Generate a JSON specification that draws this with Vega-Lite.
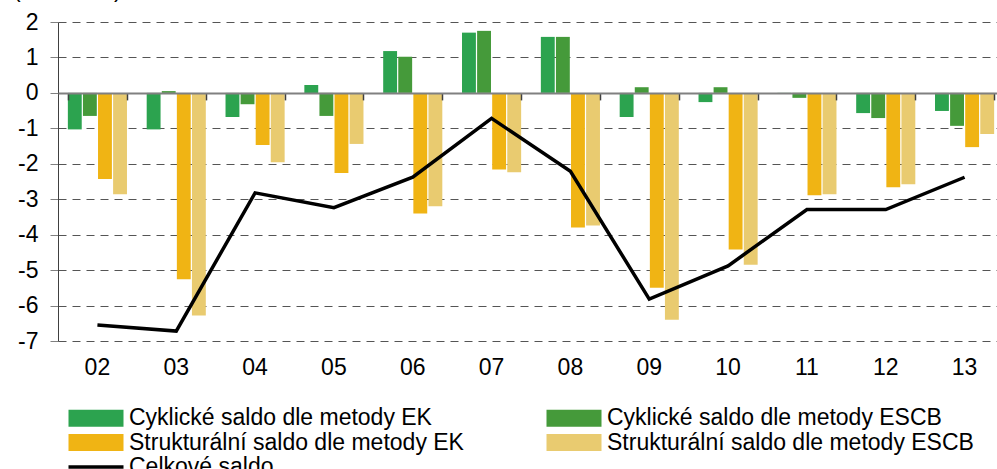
{
  "$schema": "https://vega.github.io/schema/vega-lite/v6.json",
  "width": 946,
  "height": 319,
  "autosize": {"type": "none"},
  "padding": {"left": 58, "top": 22, "right": -7, "bottom": 128},
  "background": "white",
  "title": {"text": "(v % HDP)", "anchor": "start", "frame": "group", "baseline": "alphabetic", "offset": 3, "dx": -45, "dy": 12, "fontSize": 23, "fontWeight": "normal", "color": "black"},
  "config": {
    "view": {"stroke": null},
    "font": "Liberation Sans",
    "axisY": {"labelOverlap": false, "labelFontSize": 23, "labelColor": "black", "labelPadding": 12}
  },
  "datasets": {
    "bars": [
      {"year": "02", "series": "Cyklické saldo dle metody EK", "value": -1.03},
      {"year": "02", "series": "Cyklické saldo dle metody ESCB", "value": -0.65},
      {"year": "02", "series": "Strukturální saldo dle metody EK", "value": -2.43},
      {"year": "02", "series": "Strukturální saldo dle metody ESCB", "value": -2.86},
      {"year": "03", "series": "Cyklické saldo dle metody EK", "value": -1.03},
      {"year": "03", "series": "Cyklické saldo dle metody ESCB", "value": 0.05},
      {"year": "03", "series": "Strukturální saldo dle metody EK", "value": -5.26},
      {"year": "03", "series": "Strukturální saldo dle metody ESCB", "value": -6.28},
      {"year": "04", "series": "Cyklické saldo dle metody EK", "value": -0.68},
      {"year": "04", "series": "Cyklické saldo dle metody ESCB", "value": -0.32},
      {"year": "04", "series": "Strukturální saldo dle metody EK", "value": -1.47},
      {"year": "04", "series": "Strukturální saldo dle metody ESCB", "value": -1.96},
      {"year": "05", "series": "Cyklické saldo dle metody EK", "value": 0.22},
      {"year": "05", "series": "Cyklické saldo dle metody ESCB", "value": -0.65},
      {"year": "05", "series": "Strukturální saldo dle metody EK", "value": -2.26},
      {"year": "05", "series": "Strukturální saldo dle metody ESCB", "value": -1.44},
      {"year": "06", "series": "Cyklické saldo dle metody EK", "value": 1.18},
      {"year": "06", "series": "Cyklické saldo dle metody ESCB", "value": 1.02},
      {"year": "06", "series": "Strukturální saldo dle metody EK", "value": -3.4},
      {"year": "06", "series": "Strukturální saldo dle metody ESCB", "value": -3.2},
      {"year": "07", "series": "Cyklické saldo dle metody EK", "value": 1.7},
      {"year": "07", "series": "Cyklické saldo dle metody ESCB", "value": 1.75},
      {"year": "07", "series": "Strukturální saldo dle metody EK", "value": -2.16},
      {"year": "07", "series": "Strukturální saldo dle metody ESCB", "value": -2.24},
      {"year": "08", "series": "Cyklické saldo dle metody EK", "value": 1.58},
      {"year": "08", "series": "Cyklické saldo dle metody ESCB", "value": 1.58},
      {"year": "08", "series": "Strukturální saldo dle metody EK", "value": -3.8},
      {"year": "08", "series": "Strukturální saldo dle metody ESCB", "value": -3.74},
      {"year": "09", "series": "Cyklické saldo dle metody EK", "value": -0.68},
      {"year": "09", "series": "Cyklické saldo dle metody ESCB", "value": 0.16},
      {"year": "09", "series": "Strukturální saldo dle metody EK", "value": -5.5},
      {"year": "09", "series": "Strukturální saldo dle metody ESCB", "value": -6.4},
      {"year": "10", "series": "Cyklické saldo dle metody EK", "value": -0.26},
      {"year": "10", "series": "Cyklické saldo dle metody ESCB", "value": 0.16},
      {"year": "10", "series": "Strukturální saldo dle metody EK", "value": -4.42},
      {"year": "10", "series": "Strukturální saldo dle metody ESCB", "value": -4.85},
      {"year": "11", "series": "Cyklické saldo dle metody EK", "value": -0.02},
      {"year": "11", "series": "Cyklické saldo dle metody ESCB", "value": -0.14},
      {"year": "11", "series": "Strukturální saldo dle metody EK", "value": -2.89},
      {"year": "11", "series": "Strukturální saldo dle metody ESCB", "value": -2.86},
      {"year": "12", "series": "Cyklické saldo dle metody EK", "value": -0.57},
      {"year": "12", "series": "Cyklické saldo dle metody ESCB", "value": -0.71},
      {"year": "12", "series": "Strukturální saldo dle metody EK", "value": -2.66},
      {"year": "12", "series": "Strukturální saldo dle metody ESCB", "value": -2.58},
      {"year": "13", "series": "Cyklické saldo dle metody EK", "value": -0.51},
      {"year": "13", "series": "Cyklické saldo dle metody ESCB", "value": -0.93},
      {"year": "13", "series": "Strukturální saldo dle metody EK", "value": -1.53},
      {"year": "13", "series": "Strukturální saldo dle metody ESCB", "value": -1.16}
    ],
    "total": [
      {"year": "02", "value": -6.55},
      {"year": "03", "value": -6.72},
      {"year": "04", "value": -2.82},
      {"year": "05", "value": -3.24},
      {"year": "06", "value": -2.38},
      {"year": "07", "value": -0.72},
      {"year": "08", "value": -2.21},
      {"year": "09", "value": -5.82},
      {"year": "10", "value": -4.88},
      {"year": "11", "value": -3.29},
      {"year": "12", "value": -3.29},
      {"year": "13", "value": -2.38}
    ]
  },
  "layer": [
    {
      "data": {"name": "bars"},
      "mark": {"type": "bar"},
      "encoding": {
        "x": {
          "field": "year", "type": "nominal",
          "scale": {"paddingInner": 0.25, "paddingOuter": 0.125},
          "axis": {"orient": "bottom", "title": null, "domain": false, "ticks": false, "grid": false, "labelAngle": 0, "labelFontSize": 23, "labelPadding": 15, "labelColor": "black"}
        },
        "xOffset": {
          "field": "series", "type": "nominal",
          "sort": ["Cyklické saldo dle metody EK", "Cyklické saldo dle metody ESCB", "Strukturální saldo dle metody EK", "Strukturální saldo dle metody ESCB"],
          "scale": {"paddingInner": 0.08}
        },
        "y": {
          "field": "value", "type": "quantitative",
          "scale": {"domain": [-7, 2], "nice": false, "zero": false},
          "axis": {"title": null, "values": [-7, -6, -5, -4, -3, -2, -1, 0, 1, 2], "labelExpr": "datum.value + ''", "labelOverlap": false, "grid": true, "gridDash": [8, 6], "gridColor": "#555555", "gridWidth": 1, "domainColor": "#404040", "domainWidth": 1, "tickColor": "#808080", "tickSize": 8, "tickWidth": 1, "labelFontSize": 23, "labelPadding": 12, "labelColor": "black"}
        },
        "color": {
          "field": "series", "type": "nominal",
          "scale": {
            "domain": ["Cyklické saldo dle metody EK", "Cyklické saldo dle metody ESCB", "Strukturální saldo dle metody EK", "Strukturální saldo dle metody ESCB", "Celkové saldo"],
            "range": ["#2ca34f", "#459a3a", "#f0b414", "#e9cb70", "#000000"]
          },
          "legend": {
            "title": null, "orient": "none", "direction": "horizontal", "legendX": 10, "legendY": 384.5,
            "columns": 2, "columnPadding": 82, "rowPadding": 0.5, "padding": 0,
            "labelOffset": 38, "labelFontSize": 23, "labelColor": "black", "labelLimit": 0,
            "symbolSize": 484, "symbolType": "M-1,-0.77H4V0.77H-1Z", "symbolStrokeWidth": 0,
            "encode": {
              "symbols": {
                "update": {
                  "shape": {"signal": "datum.label === 'Celkové saldo' ? 'M-1,0H4' : 'M-1,-0.77H4V0.77H-1Z'"},
                  "size": {"value": 484},
                  "fill": {"signal": "datum.label === 'Celkové saldo' ? 'transparent' : scale('color', datum.value)"},
                  "stroke": {"signal": "datum.label === 'Celkové saldo' ? 'black' : 'transparent'"},
                  "strokeWidth": {"signal": "datum.label === 'Celkové saldo' ? 3.5 : 0"},
                  "opacity": {"value": 1}
                }
              }
            }
          }
        }
      }
    },
    {
      "data": {"name": "total"},
      "mark": {"type": "line", "strokeWidth": 3.5},
      "encoding": {
        "x": {
          "field": "year", "type": "nominal",
          "axis": {"orient": "bottom", "offset": -248.1, "title": null, "labels": false, "grid": false, "domain": true, "domainColor": "#808080", "domainWidth": 2, "ticks": true, "tickBand": "extent", "tickSize": 7, "tickColor": "#404040", "tickWidth": 1.5, "zindex": 1}
        },
        "y": {"field": "value", "type": "quantitative", "axis": {"title": null, "values": [-7, -6, -5, -4, -3, -2, -1, 0, 1, 2], "labelExpr": "datum.value + ''", "labelOverlap": false}},
        "color": {"datum": "Celkové saldo"}
      }
    }
  ],
  "resolve": {"axis": {"x": "independent"}}
}
